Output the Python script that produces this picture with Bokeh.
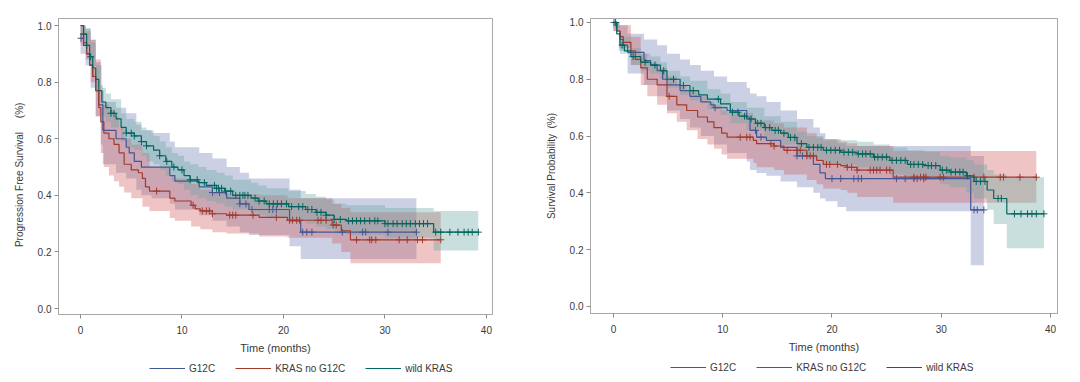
import numpy as np
from bokeh.plotting import figure
from bokeh.layouts import row, column
from bokeh.models import Legend, LegendItem, FixedTicker, NumeralTickFormatter, Range1d
from bokeh.embed import file_html
from bokeh.resources import INLINE

series_names = ["G12C", "KRAS no G12C", "wild KRAS"]
line_colors = ["#445694", "#A23A2E", "#01665E"]
band_colors = ["#6F7EB3", "#D05B5B", "#66A5A0"]
x_ticks = [0, 10, 20, 30, 40]
y_ticks = [0.0, 0.2, 0.4, 0.6, 0.8, 1.0]

# ---------------- Progression free survival ----------------
pfs_g12c_t = [0, 0.3, 0.6, 0.9, 1.2, 1.5, 1.8, 2.2, 3.5, 4.5, 4.8, 5.3, 6.0, 8.8, 9.3, 11.7, 13.0, 14.4, 15.7, 16.6, 20.6, 21.7, 33.1]
pfs_g12c_s = [0.955, 0.93, 0.90, 0.86, 0.82, 0.77, 0.72, 0.63, 0.60, 0.57, 0.55, 0.52, 0.50, 0.47, 0.45, 0.43, 0.41, 0.39, 0.37, 0.35, 0.31, 0.27, 0.27]
pfs_g12c_band_t = [0, 0.5, 1.0, 1.5, 2.0, 2.2, 3.5, 4.5, 5.5, 6.0, 7.0, 8.8, 9.3, 11.7, 13.0, 14.4, 15.7, 16.6, 20.6, 21.7, 33.1]
pfs_g12c_lo = [0.90, 0.86, 0.78, 0.68, 0.58, 0.51, 0.48, 0.46, 0.42, 0.40, 0.39, 0.37, 0.35, 0.33, 0.31, 0.29, 0.27, 0.26, 0.22, 0.175, 0.175]
pfs_g12c_hi = [1.0, 0.99, 0.95, 0.87, 0.79, 0.73, 0.71, 0.69, 0.65, 0.63, 0.62, 0.59, 0.57, 0.55, 0.53, 0.50, 0.48, 0.46, 0.42, 0.39, 0.39]
pfs_g12c_cens = [0.05, 13.0, 13.7, 15.7, 16.3, 16.9, 18.6, 18.95, 19.3, 21.9, 22.3, 22.8, 25.8, 27.8, 28.1, 30.3, 33.1]

pfs_kras_t = [0, 0.3, 0.6, 0.9, 1.2, 1.5, 1.8, 2.0, 2.3, 2.8, 3.3, 3.8, 4.3, 5.0, 5.7, 6.1, 6.4, 6.8, 8.8, 9.3, 10.9, 11.3, 11.8, 13.0, 14.4, 17.6, 20.4, 24.8, 25.7, 26.6, 35.5]
pfs_kras_s = [0.97, 0.94, 0.90, 0.86, 0.82, 0.77, 0.71, 0.66, 0.62, 0.60, 0.58, 0.55, 0.51, 0.49, 0.48, 0.46, 0.43, 0.415, 0.39, 0.38, 0.365, 0.352, 0.345, 0.335, 0.33, 0.322, 0.312, 0.295, 0.275, 0.243, 0.243]
pfs_kras_band_t = [0, 0.5, 1.0, 1.5, 2.0, 2.3, 2.8, 3.3, 3.8, 4.3, 5.0, 6.1, 6.8, 8.8, 9.3, 10.9, 11.8, 13.0, 14.4, 17.6, 20.4, 24.8, 25.7, 26.6, 35.5]
pfs_kras_lo = [0.93, 0.88, 0.80, 0.68, 0.55, 0.50, 0.47, 0.45, 0.43, 0.41, 0.39, 0.36, 0.345, 0.32, 0.31, 0.29, 0.28, 0.27, 0.265, 0.255, 0.25, 0.23, 0.20, 0.16, 0.16]
pfs_kras_hi = [1.0, 0.98, 0.95, 0.88, 0.77, 0.72, 0.70, 0.68, 0.64, 0.60, 0.58, 0.55, 0.50, 0.47, 0.46, 0.44, 0.42, 0.41, 0.405, 0.40, 0.39, 0.37, 0.355, 0.34, 0.34]
pfs_kras_cens = [7.5, 11.1, 12.0, 12.4, 12.7, 13.0, 14.7, 15.0, 15.3, 17.0, 19.3, 20.6, 20.9, 21.3, 21.6, 23.4, 23.7, 24.2, 24.9, 25.2, 27.2, 28.5, 28.7, 29.1, 31.4, 32.2, 33.2, 33.7, 35.5]

pfs_wild_t = [0, 0.3, 0.6, 0.9, 1.2, 1.5, 1.8, 2.1, 2.5, 3.0, 3.5, 4.0, 4.5, 5.3, 6.0, 6.5, 7.2, 7.8, 8.4, 9.0, 9.6, 10.2, 10.8, 11.6, 12.4, 13.4, 14.2, 15.0, 16.8, 17.5, 18.3, 20.5, 22.2, 23.2, 24.2, 25.0, 26.2, 30.0, 34.8, 39.2]
pfs_wild_s = [1.0, 0.97, 0.93, 0.89, 0.85, 0.81, 0.77, 0.73, 0.71, 0.69, 0.67, 0.64, 0.62, 0.61, 0.59, 0.575, 0.56, 0.54, 0.52, 0.50, 0.49, 0.47, 0.455, 0.445, 0.435, 0.425, 0.415, 0.40, 0.39, 0.38, 0.37, 0.36, 0.35, 0.34, 0.33, 0.315, 0.31, 0.30, 0.27, 0.27]
pfs_wild_band_t = [0, 0.5, 1.0, 1.5, 2.1, 2.5, 3.0, 4.0, 4.5, 5.3, 6.0, 6.5, 7.2, 7.8, 8.4, 9.0, 9.6, 10.2, 10.8, 11.6, 12.4, 13.4, 14.2, 15.0, 16.8, 17.5, 18.3, 20.5, 22.2, 23.2, 24.2, 25.0, 26.2, 30.0, 34.8, 39.2]
pfs_wild_lo = [0.97, 0.93, 0.86, 0.77, 0.68, 0.66, 0.64, 0.59, 0.57, 0.56, 0.54, 0.52, 0.51, 0.49, 0.47, 0.45, 0.44, 0.42, 0.40, 0.39, 0.38, 0.37, 0.36, 0.35, 0.34, 0.33, 0.32, 0.31, 0.30, 0.29, 0.28, 0.265, 0.26, 0.25, 0.205, 0.205]
pfs_wild_hi = [1.0, 0.99, 0.94, 0.86, 0.78, 0.76, 0.74, 0.69, 0.67, 0.66, 0.64, 0.63, 0.61, 0.59, 0.57, 0.55, 0.54, 0.52, 0.51, 0.50, 0.49, 0.48, 0.47, 0.455, 0.445, 0.435, 0.425, 0.415, 0.405, 0.395, 0.385, 0.37, 0.365, 0.355, 0.345, 0.345]
pfs_wild_cens = [0.3, 0.6, 1.0, 3.0, 3.3, 4.5, 5.0, 5.3, 6.0, 6.5, 7.8, 8.5, 9.2, 10.0, 10.8, 11.5, 12.2, 13.2, 13.4, 13.6, 13.9, 14.3, 14.8, 15.3, 15.7, 16.0, 16.2, 16.5, 17.2, 17.6, 18.1, 18.6, 19.0, 19.4, 19.8, 20.3, 20.8, 21.5, 21.9, 22.4, 22.8, 23.3, 23.7, 24.2, 25.0, 25.6, 26.4, 26.8, 27.2, 27.6, 28.0, 28.5, 29.0, 29.3, 30.0, 30.3, 30.8, 31.2, 31.7, 32.1, 32.5, 33.0, 33.4, 33.8, 34.2, 35.0, 35.5, 36.4, 37.2, 37.8, 38.2, 38.6, 39.2]

# ---------------- Overall survival ----------------
os_g12c_t = [0, 0.3, 0.6, 0.9, 1.3, 2.8, 3.4, 4.0, 4.5, 4.9, 6.1, 7.0, 8.0, 8.9, 9.2, 10.4, 12.2, 12.5, 13.1, 14.0, 15.3, 16.8, 18.3, 18.9, 19.4, 32.7, 33.9]
os_g12c_s = [1.0, 0.97, 0.94, 0.92, 0.895, 0.866, 0.85, 0.83, 0.80, 0.78, 0.76, 0.74, 0.72, 0.71, 0.70, 0.69, 0.667, 0.62, 0.596, 0.585, 0.56, 0.53, 0.50, 0.47, 0.45, 0.34, 0.34]
os_g12c_band_t = [0, 0.5, 1.3, 2.8, 4.0, 4.9, 6.1, 7.0, 8.0, 9.2, 10.4, 12.2, 12.5, 13.1, 14.0, 15.3, 16.8, 18.3, 18.9, 19.4, 20.5, 21.3, 32.7, 33.9]
os_g12c_lo = [0.97, 0.90, 0.82, 0.78, 0.74, 0.69, 0.66, 0.63, 0.60, 0.57, 0.54, 0.51, 0.48, 0.47, 0.46, 0.44, 0.42, 0.40, 0.38, 0.37, 0.35, 0.335, 0.145, 0.145]
os_g12c_hi = [1.0, 0.99, 0.96, 0.94, 0.92, 0.89, 0.87, 0.85, 0.83, 0.81, 0.79, 0.77, 0.75, 0.74, 0.72, 0.69, 0.66, 0.63, 0.61, 0.59, 0.575, 0.565, 0.53, 0.53]
os_g12c_cens = [0.05, 9.3, 13.0, 13.5, 16.8, 17.3, 20.0, 20.8, 22.0, 22.4, 22.7, 25.9, 26.7, 27.5, 27.8, 28.4, 33.0, 33.3, 33.9]

os_kras_t = [0, 0.3, 0.6, 0.9, 1.6, 2.0, 2.5, 3.1, 4.0, 4.9, 5.8, 6.7, 7.7, 8.6, 9.2, 9.9, 10.4, 12.8, 13.1, 14.7, 15.6, 17.7, 18.6, 19.2, 20.8, 21.4, 22.3, 25.6, 38.7]
os_kras_s = [1.0, 0.97, 0.95, 0.93, 0.90, 0.87, 0.84, 0.80, 0.78, 0.74, 0.71, 0.69, 0.667, 0.65, 0.63, 0.61, 0.596, 0.585, 0.573, 0.565, 0.55, 0.53, 0.514, 0.50, 0.496, 0.49, 0.48, 0.455, 0.455]
os_kras_band_t = [0, 0.5, 1.6, 2.5, 3.1, 4.0, 4.9, 5.8, 6.7, 7.7, 8.6, 9.2, 9.9, 10.4, 12.8, 13.1, 14.7, 15.6, 17.7, 18.6, 19.2, 20.8, 21.4, 22.3, 25.6, 38.7]
os_kras_lo = [0.97, 0.91, 0.85, 0.78, 0.74, 0.71, 0.68, 0.65, 0.62, 0.59, 0.57, 0.555, 0.535, 0.52, 0.505, 0.49, 0.48, 0.465, 0.445, 0.43, 0.415, 0.41, 0.40, 0.385, 0.365, 0.365]
os_kras_hi = [1.0, 0.99, 0.95, 0.89, 0.86, 0.84, 0.81, 0.78, 0.76, 0.74, 0.72, 0.71, 0.69, 0.68, 0.665, 0.655, 0.645, 0.63, 0.61, 0.595, 0.585, 0.58, 0.575, 0.565, 0.547, 0.547]
os_kras_cens = [5.1, 11.6, 12.2, 12.5, 14.4, 14.7, 15.9, 16.8, 17.1, 17.7, 18.0, 18.3, 19.5, 19.8, 20.5, 21.4, 21.8, 22.3, 23.5, 23.8, 24.1, 24.4, 25.0, 25.3, 27.5, 28.1, 28.4, 28.6, 29.9, 30.2, 33.0, 33.9, 35.4, 35.7, 37.2, 38.7]

os_wild_t = [0, 0.3, 0.6, 1.0, 1.6, 2.5, 3.4, 4.3, 4.9, 6.1, 7.0, 7.8, 8.6, 9.8, 10.7, 11.5, 12.2, 13.0, 13.8, 14.5, 15.3, 16.0, 16.8, 17.7, 19.2, 20.8, 22.3, 23.8, 25.3, 26.9, 28.4, 29.9, 30.8, 32.3, 33.0, 34.2, 34.8, 36.0, 39.4]
os_wild_s = [1.0, 0.96, 0.92, 0.90, 0.88, 0.86, 0.85, 0.83, 0.80, 0.778, 0.76, 0.745, 0.73, 0.713, 0.684, 0.67, 0.66, 0.645, 0.63, 0.62, 0.61, 0.595, 0.573, 0.56, 0.55, 0.543, 0.537, 0.526, 0.514, 0.50, 0.496, 0.48, 0.473, 0.46, 0.44, 0.41, 0.38, 0.326, 0.326]
os_wild_band_t = [0, 0.6, 1.6, 2.5, 3.4, 4.3, 4.9, 6.1, 7.0, 8.6, 9.8, 10.7, 12.2, 13.8, 15.3, 16.8, 17.7, 19.2, 20.8, 22.3, 23.8, 25.3, 26.9, 28.4, 29.9, 30.8, 32.3, 33.0, 34.2, 34.8, 36.0, 39.4]
os_wild_lo = [0.98, 0.89, 0.85, 0.83, 0.82, 0.80, 0.77, 0.745, 0.725, 0.695, 0.675, 0.645, 0.62, 0.59, 0.57, 0.53, 0.52, 0.505, 0.50, 0.49, 0.48, 0.465, 0.45, 0.445, 0.43, 0.42, 0.40, 0.38, 0.34, 0.29, 0.205, 0.205]
os_wild_hi = [1.0, 0.95, 0.91, 0.89, 0.88, 0.86, 0.83, 0.81, 0.795, 0.765, 0.75, 0.72, 0.70, 0.67, 0.65, 0.615, 0.60, 0.59, 0.585, 0.58, 0.57, 0.56, 0.55, 0.545, 0.53, 0.525, 0.515, 0.50, 0.48, 0.465, 0.455, 0.455]
os_wild_cens = [0.2, 0.8, 1.8, 2.9, 3.8, 4.6, 5.5, 6.4, 7.3, 9.6, 10.9, 11.4, 12.0, 12.6, 13.2, 13.5, 13.9, 14.3, 14.8, 15.1, 15.6, 16.2, 16.6, 17.2, 17.9, 18.3, 18.7, 19.0, 19.5, 19.9, 20.3, 20.7, 21.1, 21.5, 21.9, 22.4, 22.8, 23.1, 23.5, 23.9, 24.2, 24.6, 25.0, 25.5, 25.9, 26.3, 26.7, 27.2, 27.5, 27.9, 28.3, 28.8, 29.1, 29.5, 30.1, 30.5, 30.9, 31.3, 31.7, 32.0, 32.4, 33.2, 33.6, 34.0, 35.2, 35.5, 36.7, 37.3, 37.9, 38.3, 38.7, 39.4]

FONT = "Liberation Sans"
NB = "\u00a0"


def make_panel(ylabel, curves, fw, fh, borders, xr, yr):
    p = figure(frame_width=fw, frame_height=fh, output_backend="svg", toolbar_location=None,
               x_range=Range1d(*xr), y_range=Range1d(*yr),
               min_border_left=borders[0], min_border_right=borders[1],
               min_border_top=borders[2], min_border_bottom=borders[3])
    p.xgrid.visible = False
    p.ygrid.visible = False
    p.outline_line_color = "#a8a8a8"
    p.outline_line_width = 1

    for (t, s, bt, lo, hi, cens), bc in zip(curves, band_colors):
        p.varea_step(x=bt, y1=lo, y2=hi, step_mode="after", fill_color=bc, fill_alpha=0.36)
    for (t, s, bt, lo, hi, cens), lc in zip(curves, line_colors):
        p.step(x=t, y=s, mode="after", line_color=lc, line_width=1.2)
        ta = np.asarray(t)
        sa = np.asarray(s)
        ca = np.asarray(cens)
        idx = np.clip(np.searchsorted(ta, ca, side="right") - 1, 0, len(sa) - 1)
        p.scatter(x=ca, y=sa[idx], marker="cross", size=7, line_color=lc, line_width=1)

    for ax in (p.xaxis[0], p.yaxis[0]):
        ax.axis_line_color = "#a8a8a8"
        ax.major_tick_line_color = "#8a8a8a"
        ax.major_tick_out = 4
        ax.major_tick_in = 0
        ax.minor_tick_line_color = None
        ax.major_label_text_font = FONT
        ax.major_label_text_font_size = "10px"
        ax.major_label_text_color = "#3a3a3a"
        ax.axis_label_text_font = FONT
        ax.axis_label_text_font_size = "11px"
        ax.axis_label_text_font_style = "normal"
        ax.axis_label_text_color = "#3a3a3a"
    p.yaxis[0].axis_label_text_font_size = "10px"
    p.xaxis[0].ticker = FixedTicker(ticks=x_ticks)
    p.yaxis[0].ticker = FixedTicker(ticks=y_ticks)
    p.yaxis[0].formatter = NumeralTickFormatter(format="0.0")
    p.xaxis[0].axis_label = "Time (months)"
    p.yaxis[0].axis_label = ylabel
    p.xaxis[0].major_label_standoff = 7
    p.xaxis[0].axis_label_standoff = 5
    p.yaxis[0].major_label_standoff = 3
    p.yaxis[0].axis_label_standoff = 10
    return p


def make_legend(width, height, x0):
    lf = figure(width=width, height=height, output_backend="svg", toolbar_location=None,
                x_axis_type=None, y_axis_type=None, x_range=Range1d(0, 1), y_range=Range1d(0, 1),
                min_border_left=0, min_border_right=0, min_border_top=0, min_border_bottom=0)
    lf.outline_line_color = None
    lf.xgrid.visible = False
    lf.ygrid.visible = False
    items = []
    for lc, name in zip(line_colors, series_names):
        # placeholder renderer (outside the visible range) so the legend draws a line swatch
        r = lf.line(x=[-5, -4], y=[-5, -5], line_color=lc, line_width=1.2)
        items.append(LegendItem(label=name, renderers=[r]))
    legend = Legend(items=items, orientation="horizontal", location=(x0, (height - 12) // 2),
                    border_line_alpha=0, background_fill_alpha=0,
                    label_text_font=FONT, label_text_font_size="10px", label_text_color="#3a3a3a",
                    glyph_width=36, glyph_height=12, label_height=12, label_standoff=4,
                    spacing=20, padding=0, margin=0)
    lf.add_layout(legend, "center")
    return lf


pfs_curves = [
    (pfs_g12c_t, pfs_g12c_s, pfs_g12c_band_t, pfs_g12c_lo, pfs_g12c_hi, pfs_g12c_cens),
    (pfs_kras_t, pfs_kras_s, pfs_kras_band_t, pfs_kras_lo, pfs_kras_hi, pfs_kras_cens),
    (pfs_wild_t, pfs_wild_s, pfs_wild_band_t, pfs_wild_lo, pfs_wild_hi, pfs_wild_cens),
]
os_curves = [
    (os_g12c_t, os_g12c_s, os_g12c_band_t, os_g12c_lo, os_g12c_hi, os_g12c_cens),
    (os_kras_t, os_kras_s, os_kras_band_t, os_kras_lo, os_kras_hi, os_kras_cens),
    (os_wild_t, os_wild_s, os_wild_band_t, os_wild_lo, os_wild_hi, os_wild_cens),
]

p1 = make_panel("Progression Free Survival" + NB * 5 + "(%)" + NB * 6, pfs_curves, 434, 296,
                (58, 40, 18, 44), (-2.17, 40.6), (-0.021, 1.025))
p2 = make_panel("Survival Probability" + NB * 2 + "(%)", os_curves, 467, 295,
                (58, 15, 18, 44), (-2.1, 40.64), (-0.025, 1.014))
l1 = make_legend(532, 20, 91)
l2 = make_legend(540, 20, 80)

layout = row(column(p1, l1), column(p2, l2))
open("out.html", "w").write(file_html(layout, INLINE))
